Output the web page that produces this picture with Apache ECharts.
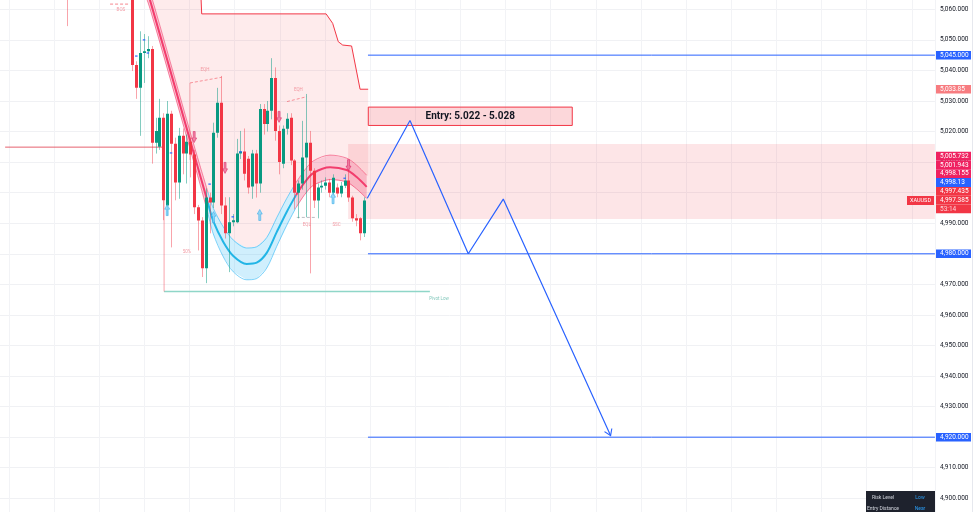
<!DOCTYPE html>
<html><head><meta charset="utf-8">
<script src="https://cdn.jsdelivr.net/npm/echarts@6/dist/echarts.min.js"></script>
<style>html,body{margin:0;padding:0;background:#fff;overflow:hidden;width:979px;height:512px;}
#c{position:absolute;left:-40px;top:-30px;width:1060px;height:580px;}</style>
</head><body><div id="c"></div>
<script>
// ---------------- DATA ----------------
const candleIdx = [15,32,33,34,35,36,37,38,39,40,41,42,43,44,45,46,47,48,49,50,51,52,53,54,55,56,57,58,59,60,61,62,63,64,65,66,67,68,69,70,71,72,73,74,75,76,77,78,79,80,81,82,83,84,85,86,87,88,89,90,91,92];
const candleOpen  = [5080,5070,5041.8,5034.3,5045.7,5046.3,5047.0,5016.3,5015.0,5024.5,4995.8,5025.8,5016.0,5003.3,5018.6,5012.8,5016.7,5012.5,4995.2,4990.9,4975.3,4998.4,4996.8,5019.6,5029.4,4995.8,4986.7,4990.3,4990.3,5012.8,5013.5,5011.1,5002.0,5012.8,5003.0,5027.4,5022.5,5026.8,5037.5,5020.2,5009.5,5020.9,5024.5,5010.5,5000.0,5003.0,5011.5,5016.3,5007.2,4997.4,5001.7,5002.3,5003.3,5000.0,5001.7,4999.7,5002.3,5004.0,4998.4,4991.6,4991.6,4986.7];
const candleClose = [5076,5041.8,5034.3,5045.7,5046.3,5047.0,5016.3,5020.2,5024.5,4997.5,5025.8,5016.0,5003.3,5018.6,5012.8,5016.7,5012.5,4995.2,4990.9,4975.3,4998.4,4996.8,5019.6,5029.4,4995.8,4986.7,4990.3,4991.0,5012.8,5013.5,5006.2,5001.7,5012.8,5003.0,5027.4,5022.5,5026.8,5037.5,5020.2,5010.0,5020.9,5024.2,5010.5,5000.0,5003.0,5011.5,5016.3,5007.2,4997.4,5001.7,5002.3,5003.3,5000.0,5004.9,4999.7,5002.3,5004.0,4998.4,4991.6,4990.9,4986.7,4997.4];
const candleLow   = [5054.5,5039.8,5030.7,5018.6,5035.9,5044.0,5009.5,5012.8,5014.0,4991.0,4992.6,4982.1,4997.5,4998.0,5006.0,5003.0,5005.0,4993.0,4981.1,4972.4,4970.4,4986.7,4995.0,5018.0,4993.0,4985.0,4974.0,4989.0,4990.0,5011.0,5004.0,4999.7,4998.0,4998.4,5000.0,5019.0,5020.0,5024.0,5017.0,5006.0,5008.0,5019.0,5009.0,4994.5,4991.6,5001.0,4992.0,4973.6,4995.0,4991.6,5000.0,5001.0,4998.5,4999.0,4998.5,4998.5,5001.5,4997.0,4990.5,4989.0,4984.4,4985.5];
const candleHigh  = [5085,5075,5043,5052.8,5051.9,5051.2,5048.0,5024.5,5030.7,5026.0,5030.0,5026.8,5018.0,5021.2,5021.0,5019.0,5018.0,5014.0,4996.0,4992.0,5001.4,5000.0,5022.9,5034.3,5038.2,4998.5,4998.5,4993.0,5017.6,5020.2,5021.0,5012.0,5014.0,5014.0,5029.0,5029.0,5030.0,5044.0,5041.0,5022.0,5022.0,5026.0,5026.0,5011.0,5004.0,5023.5,5032.3,5020.2,5008.0,5003.0,5004.0,5005.0,5004.5,5006.0,5003.0,5003.5,5006.0,5008.0,4999.0,4993.0,4992.0,4998.5];

// adaptive band (centre line + half width)
const bandX  = [34.0,36.55,46.92,49.51,51.58,52.95,55.55,58.14,61.61,64.2,66.8,69.39,71.98,74.39,76.72,78.88,83.21,87.53,90.12,92.72];
const bandV  = [5072.3,5063.0,5017.2,5005.8,4996.6,4990.7,4983.9,4979.3,4976.7,4977.1,4980.3,4987.1,4993.7,4999.2,5003.5,5006.4,5008.3,5007.4,5005.1,5001.9];
const bandHW = [2.8,2.8,2.8,3.0,3.5,4.2,4.9,5.2,5.2,5.2,5.0,4.7,4.4,4.1,4.0,4.0,4.0,3.9,3.9,3.8];

// cloud top (red line)
const cloudTopX = [49.5,49.5,49.95,82.2,83.9,85.35,86.5,88.8,91.0,93.1];
const cloudTopV = [5075,5072,5058.5,5058.5,5055.4,5049.4,5048.3,5048.0,5033.85,5033.85];

// projected path
const projX = [92.87,103.94,119.05,128.12,155.96];
const projV = [4998.2,5023.6,4980.0,4997.9,4920.5];

// levels
const levelValues = [5045,4980,4920];
const levelStart = 93.05, levelEnd = 240;
const entryLow = 5022, entryHigh = 5028, entryX0 = 93.13, entryX1 = 146.0;
const entryText = 'Entry: 5.022 - 5.028';
const zoneLow = 4991.4, zoneHigh = 5015.9, zoneX0 = 87.9;
const pivotLowV = 4967.65, pivotX0 = 40.2, pivotX1 = 109.1;
const resLineV = 5014.9, resX0 = -1.0, resX1 = 39.7;

// markers
const upArrowX = [41,53,65,84];
const upArrowV = [4994.3,4992.0,4992.7,4998.2];
const dnArrowX = [48,56,70,88];
const dnArrowV = [5018.2,5008.1,5024.8,5009.0];
const dotX = [33,35,36,42,52,58,60,87];
const dotV = [5044.7,5050.0,5045.7,5013.0,5002.8,4992.1,5013.4,5004.7];

// small annotations
const annoText = ['BOS','EQH','EQH','EQL','SSC','50%','Pivot Low'];
const annoX = [29.0,50.8,75.0,77.2,84.9,46.1,111.5];
const annoV = [5059.8,5040.2,5033.6,4989.6,4989.6,4980.5,4965.4];

// right price tags
const tagText = ['5,045.000','5,033.85','4,980.000','4,920.000'];
const tagValue = [5045,5033.85,4980,4920];
const clusterText = ['5,005.732','5,001.943','4,998.155','4,998.13','4,997.435','4,997.385','53:14'];
const tableRows = [['Risk Level','Low'],['Entry Distance','Near']];

// ---------------- STYLE / BUILD ----------------
const OX = 40, OY = 30; // canvas offset (chart div is shifted)
const RED='#f23645', GREEN='#089981', BLUE='#2962ff', PINK='#f23d6d', CYAN='#22b5e6';
const fmt = v => v.toLocaleString('en-US',{minimumFractionDigits:3,maximumFractionDigits:3});

const candles = candleIdx.map((x,i)=>[x,candleOpen[i],candleClose[i],candleLow[i],candleHigh[i]]);
const band = bandX.map((x,i)=>({x, c:bandV[i], u:bandV[i]+bandHW[i], l:bandV[i]-bandHW[i]}));

function lineS(data,color,width,z,extra){
  return Object.assign({type:'line',data,symbol:'none',silent:true,z,animation:false,
    lineStyle:{color,width}},extra||{});
}
function polyS(pts,fill,stroke,z){
  return {type:'custom',z,silent:true,clip:true,data:[[pts[0][0],pts[0][1]]],encode:{x:0,y:1},
    renderItem:(p,api)=>({type:'polygon',shape:{points:pts.map(q=>api.coord(q))},
      style:{fill,stroke:stroke||null,lineWidth:1}})};
}
function bandSeg(a,b,fill,edge,lineColor){
  const seg = band.slice(a,b+1);
  const pts = seg.map(p=>[p.x,p.u]).concat(seg.slice().reverse().map(p=>[p.x,p.l]));
  return [
    polyS(pts,fill,null,2),
    lineS(seg.map(p=>[p.x,p.u]),edge,1,3,{smooth:0.3}),
    lineS(seg.map(p=>[p.x,p.l]),edge,1,3,{smooth:0.3}),
    lineS(seg.map(p=>[p.x,p.c]),lineColor,2,3,{smooth:0.3})
  ];
}

const cloudPts = cloudTopX.map((x,i)=>[x,cloudTopV[i]])
  .concat([[93.1,band[band.length-1].u]])
  .concat(band.slice().reverse().map(p=>[p.x,p.u]))
  .concat([[34.0,5075]]);

const dashed = c => ({lineStyle:{color:c,width:1,type:[3,2]}});
const series = [];
series.push(polyS(cloudPts,'rgba(242,54,69,0.10)',null,1));
series.push(lineS(cloudTopX.slice(1).map((x,i)=>[x,cloudTopV[i+1]]),RED,1,3));
series.push({type:'line',data:[],silent:true,z:1,
  markArea:{silent:true,data:[
    [{coord:[zoneX0,zoneHigh],itemStyle:{color:'rgba(242,54,69,0.13)'}},{coord:[levelEnd,zoneLow]}],
    [{coord:[entryX0,entryHigh],itemStyle:{color:'rgba(242,54,69,0.2)',borderColor:RED,borderWidth:1},
      label:{show:true,position:'inside',formatter:entryText,color:'#131722',fontSize:10,fontWeight:'bold',fontFamily:'Roboto'}},
     {coord:[entryX1,entryLow]}]
  ]}});
series.push(...bandSeg(0,4,'rgba(242,61,109,0.28)','rgba(242,61,109,0.6)',PINK));
series.push(...bandSeg(4,13,'rgba(41,182,246,0.22)','rgba(41,182,246,0.6)',CYAN));
series.push(...bandSeg(13,19,'rgba(242,61,109,0.28)','rgba(242,61,109,0.6)',PINK));
levelValues.forEach(v=>series.push(lineS([[levelStart,v],[levelEnd,v]],BLUE,1,4)));
series.push(lineS([[resX0,resLineV],[resX1,resLineV]],'rgba(226,70,85,0.85)',1,3));
series.push(lineS([[pivotX0,pivotLowV],[pivotX1,pivotLowV]],'#8fd6c8',1.5,3));
series.push(lineS([[pivotX0,4997.6],[pivotX0,pivotLowV]],'rgba(242,54,69,0.45)',1,3));
series.push(lineS([[46.9,5035.9],[46.9,5010.7]],'rgba(242,54,69,0.35)',1,3));
series.push(lineS([[26.2,5061.7],[31.4,5061.7]],'',1,3,dashed('rgba(242,54,69,0.6)')));
series.push(lineS([[46.9,5035.9],[55.1,5037.75]],'',1,3,dashed('rgba(242,54,69,0.5)')));
series.push(lineS([[72.06,5029.8],[77.16,5031.4]],'',1,3,dashed('rgba(242,54,69,0.5)')));
series.push(lineS([[74.6,4991.9],[79.8,4991.9]],'',1,3,dashed('rgba(120,123,134,0.5)')));
series.push({type:'custom',z:5,silent:true,clip:true,data:candles,encode:{x:0,y:[1,2,3,4]},
  renderItem:(p,api)=>{
    const x=api.value(0),o=api.value(1),c=api.value(2),l=api.value(3),h=api.value(4);
    const pO=api.coord([x,o]),pC=api.coord([x,c]),pL=api.coord([x,l]),pH=api.coord([x,h]);
    const up=c>=o, cx=Math.round(pO[0]);
    const top=Math.min(pO[1],pC[1]), hh=Math.max(1,Math.abs(pO[1]-pC[1]));
    return {type:'group',children:[
      {type:'line',shape:{x1:cx+0.5,y1:pH[1],x2:cx+0.5,y2:pL[1]},style:{stroke:up?'rgba(8,153,129,0.5)':'rgba(242,54,69,0.45)',lineWidth:1}},
      {type:'rect',shape:{x:cx-1,y:top,width:3,height:hh},style:{fill:up?GREEN:RED}}
    ]};
  }});
series.push({type:'scatter',z:6,silent:true,data:upArrowX.map((x,i)=>[x,upArrowV[i]]),
  symbol:'path://M5,0 L10,5 L7,5 L7,12 L3,12 L3,5 L0,5 Z',symbolSize:[5,11],
  itemStyle:{color:'#7fd0f5',borderColor:'#2aa7e8',borderWidth:0.6}});
series.push({type:'scatter',z:6,silent:true,data:dnArrowX.map((x,i)=>[x,dnArrowV[i]]),
  symbol:'path://M3,0 L7,0 L7,7 L10,7 L5,12 L0,7 L3,7 Z',symbolSize:[5,11],
  itemStyle:{color:'#ec6b93',borderColor:'#d81b60',borderWidth:0.6}});
series.push({type:'scatter',z:6,silent:true,data:dotX.map((x,i)=>[x,dotV[i]]),
  symbol:'rect',symbolSize:[2.5,1.5],itemStyle:{color:BLUE}});
series.push({type:'scatter',z:6,silent:true,symbolSize:0,
  data:annoX.map((x,i)=>({value:[x,annoV[i]],name:annoText[i],
    label:{color:annoText[i]==='Pivot Low'?'#5fb8a8':'#f0838e'}})),
  label:{show:true,position:'inside',formatter:p=>p.name,fontSize:4.5,fontFamily:'Roboto'}});
const projData = projX.map((x,i)=>[x,projV[i]]);
projData[projData.length-1] = {value:projData[projData.length-1],symbol:'path://M0,0 L5,7 L10,0',
  symbolSize:[8,6],symbolRotate:24,symbolOffset:[-1.3,-2.8],
  itemStyle:{color:'rgba(0,0,0,0)',borderColor:BLUE,borderWidth:1}};
series.push({type:'line',z:7,silent:true,data:projData,symbol:'none',showSymbol:true,
  lineStyle:{color:BLUE,width:1.2}});

const option = {
  animation:false,
  backgroundColor:'#ffffff',
  grid:{left:-36.14+OX,right:1060-(934.9+OX),top:-21.26+OY,bottom:580-(528.86+OY)},
  xAxis:{type:'value',min:-11.7,max:240,interval:11.7,axisLabel:{show:false},axisLine:{show:false},
    axisTick:{show:false},splitLine:{show:true,lineStyle:{color:'#f2f3f6',width:1}}},
  yAxis:{type:'value',position:'right',min:4890,max:5070,interval:10,axisLine:{show:false},axisTick:{show:false},
    splitLine:{show:true,lineStyle:{color:'#f0f1f4',width:1}},
    axisLabel:{color:'#131722',fontSize:6.5,margin:5,fontFamily:'Roboto',formatter:fmt}},
  series
};
const chart = echarts.init(document.getElementById('c'),null,{renderer:'canvas'});
chart.setOption(option);

const g = [];
const yPx = v => chart.convertToPixel({yAxisIndex:0},v);
const TAGX=936+OX, TAGW=35, FS=6.5;
function tag(y,h,text,bg,col){
  g.push({type:'rect',z:100,shape:{x:TAGX,y:y-h/2,width:TAGW,height:h},style:{fill:bg}});
  g.push({type:'text',z:101,x:940+OX,y:y,style:{text,fill:col||'#fff',fontSize:FS,fontFamily:'Roboto',verticalAlign:'middle',align:'left'}});
}
const tagBg = ['#2962ff','#f77c80','#2962ff','#2962ff'];
tagText.forEach((t,i)=>tag(yPx(tagValue[i]),8.5,t,tagBg[i]));
const clusterBg = ['#ef2160','#ef2160','#ef2160','#2962ff','#f23645','#f23645','#f23645'];
const clusterTop = 151.7+OY, rowH = 8.8;
clusterText.forEach((t,i)=>tag(clusterTop+rowH*(i+0.5),rowH,t,clusterBg[i],i===6?'#fcd3d7':'#fff'));
g.push({type:'rect',z:100,shape:{x:907+OX,y:196+OY,width:27,height:9},style:{fill:'#f23645'}});
g.push({type:'text',z:101,x:920.5+OX,y:200.5+OY,style:{text:'XAUUSD',fill:'#fff',fontSize:5.5,fontFamily:'Roboto',align:'center',verticalAlign:'middle'}});
g.push({type:'line',z:100,shape:{x1:972.5+OX,y1:0,x2:972.5+OX,y2:580},style:{stroke:'#e6e8ee',lineWidth:1}});
g.push({type:'rect',z:100,shape:{x:866+OX,y:491+OY,width:69,height:22},style:{fill:'#1e222d'}});
tableRows.forEach((r,i)=>{
  g.push({type:'text',z:101,x:883+OX,y:497.5+i*11+OY,style:{text:r[0],fill:'#d1d4dc',fontSize:5,fontFamily:'Roboto',align:'center',verticalAlign:'middle'}});
  g.push({type:'text',z:101,x:920+OX,y:497.5+i*11+OY,style:{text:r[1],fill:'#2a9df4',fontSize:5,fontFamily:'Roboto',align:'center',verticalAlign:'middle'}});
});
chart.setOption({graphic:g});
</script></body></html>
